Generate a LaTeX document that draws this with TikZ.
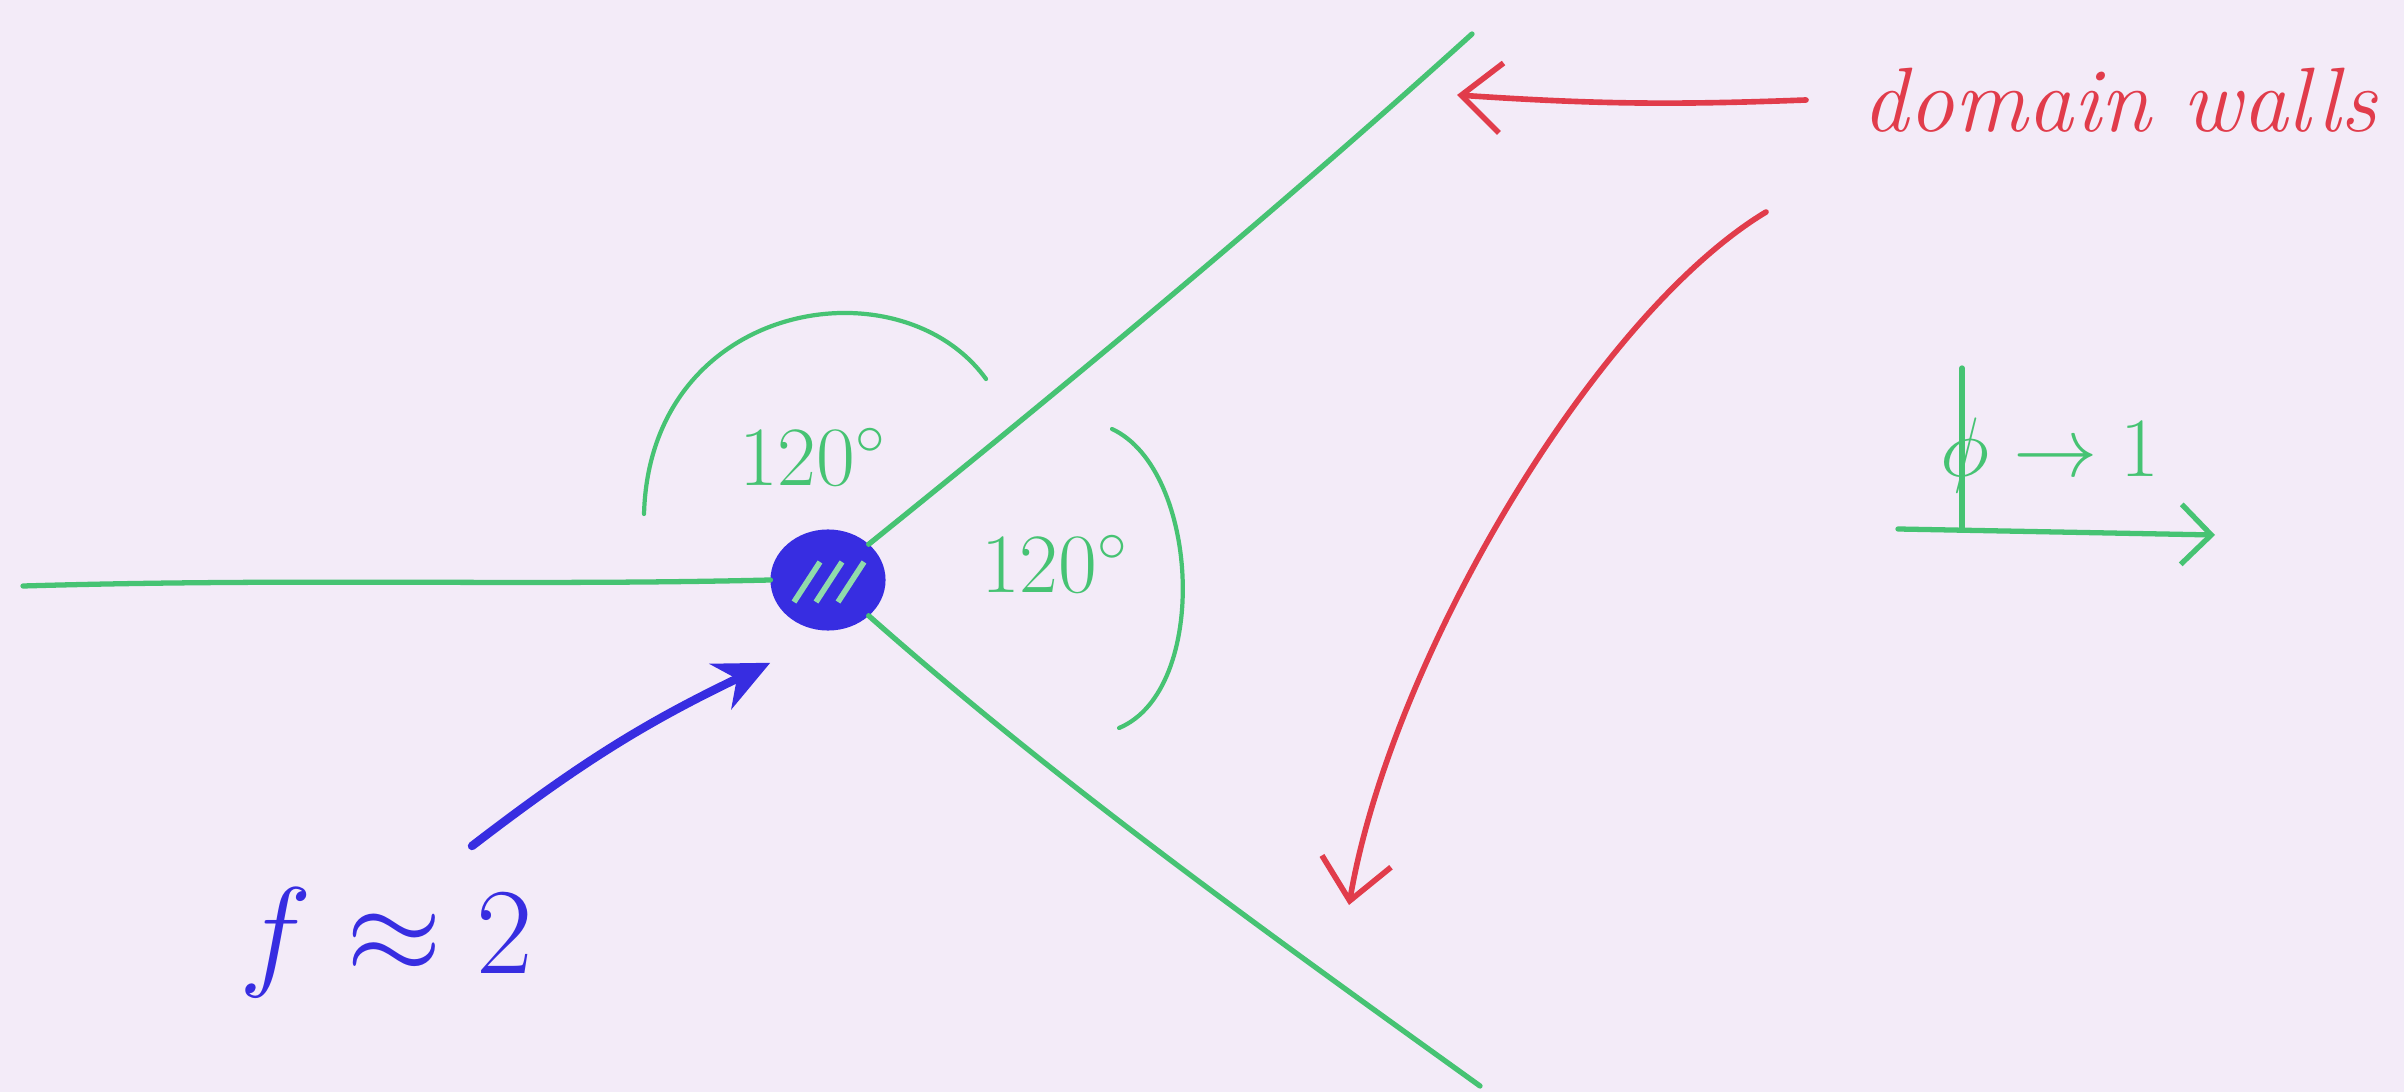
\RequirePackage{fix-cm}
\documentclass[tikz,border=0pt]{standalone}
\usepackage{amsmath,amssymb}
\usetikzlibrary{shapes.geometric,arrows.meta,positioning}
\definecolor{paper}{RGB}{243,235,248}
\definecolor{wallgreen}{RGB}{70,195,115}
\definecolor{penred}{RGB}{225,60,75}
\definecolor{penblue}{RGB}{55,45,225}

\begin{document}
\begin{tikzpicture}[
    x=0.01cm, y=-0.01cm,
    wall/.style={wallgreen, line width=1.5pt, line cap=round},
    angmark/.style={wallgreen, line width=1.2pt, line cap=round},
    redpen/.style={penred, line width=1.6pt, line cap=round, -{Straight Barb[length=4mm, width=7mm]}},
    note/.style={inner sep=0pt, font=\fontsize{24}{28}\selectfont},
    >=Stealth
]
    \fill[paper] (0,0) rectangle (2404,1092);
    \useasboundingbox (0,0) rectangle (2404,1092);

    % Junction
    \node[ellipse, draw=penblue, fill=penblue, line width=2pt, minimum width=1.08cm, minimum height=0.94cm,
          path picture={\foreach \s in {-0.22,0,0.22}
            \draw[wallgreen!60!white, line width=1.6pt] ([shift={(\s cm-0.12cm,-0.22cm)}]path picture bounding box.center) -- ++(0.26cm,0.4cm);}]
          (core) at (828,580) {};

    % Walls
    \coordinate (wL) at (23,586);
    \coordinate (wU) at (1472,34);
    \coordinate (wD) at (1480,1086);
    \draw[wall] (wL) .. controls (300,578) and (520,586) .. (core.west);
    \draw[wall] (core.north east) .. controls (1070,382) and (1275,212) .. (wU);
    \draw[wall] (core.south east) .. controls (1060,785) and (1270,935) .. (wD);

    % Angles
    \draw[angmark] (644,514) .. controls (650,300) and (900,260) .. (986,379);
    \draw[angmark] (1112,429) .. controls (1200,470) and (1210,690) .. (1119,728);
    \node[note, text=wallgreen] (angtop) at (813,457) {$120^\circ$};
    \node[note, text=wallgreen] (angright) at (1055,564) {$120^\circ$};

    % Core value
    \node[note, text=penblue, font=\fontsize{35}{40}\selectfont] (fnote) at (386,943) {$f \approx 2$};
    \coordinate (fstart) at (472,846);
    \draw[penblue, line width=2.4pt, line cap=round, -{Stealth[length=5.5mm, width=5mm]}]
        (fstart) to[bend left=6] ([shift={(-17,47)}]core.south west);

    % Domain walls
    \node[note, text=penred, anchor=west, font=\fontsize{26}{30}\selectfont\itshape] (dnote) at (1862,100) {domain walls};
    \coordinate (wUtip) at (1457,95);
    \coordinate (dstart) at (1766,212);
    \coordinate (wDtip) at (1349,905);
    \draw[redpen] ([xshift=-0.56cm]dnote.west) to[bend left=3] (wUtip);
    \draw[redpen] (dstart) .. controls (1595,315) and (1391,659) .. (wDtip);

    % Vacuum far away
    \coordinate (ax0) at (1962,529);
    \draw[wall] (ax0) -- ++(0,-161);
    \draw[wall, -{Straight Barb[length=3mm, width=6mm]}] ([xshift=-0.64cm]ax0) -- ++(317,6);
    \node[note, text=wallgreen, anchor=west] (phinote) at (1940,455) {$\phi \to 1$};
\end{tikzpicture}
\end{document}
